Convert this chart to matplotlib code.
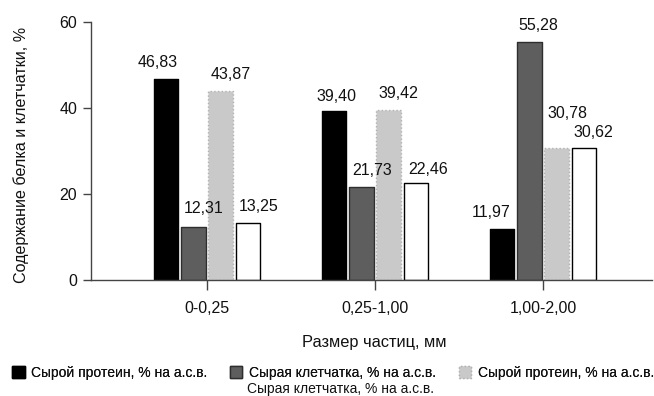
import matplotlib
matplotlib.use("Agg")
import matplotlib.pyplot as plt
from matplotlib.patches import Patch
import numpy as np

plt.rcParams['font.family'] = ['Liberation Sans', 'DejaVu Sans']

categories = ["0-0,25", "0,25-1,00", "1,00-2,00"]
series_names = ["Сырой протеин, % на а.с.в.", "Сырая клетчатка, % на а.с.в.",
                "Сырой протеин, % на а.с.в.", "Сырая клетчатка, % на а.с.в."]
s1 = [46.83, 39.40, 11.97]
s2 = [12.31, 21.73, 55.28]
s3 = [43.87, 39.42, 30.78]
s4 = [13.25, 22.46, 30.62]
yticks = [0, 20, 40, 60]
xlabel = "Размер частиц, мм"
ylabel = "Содержание белка и клетчатки, %"

W, H = 654, 396
fig = plt.figure(figsize=(W / 100, H / 100), dpi=100)
ax = fig.add_axes([91 / W, 1 - 280 / H, (652 - 91) / W, (280 - 22) / H])

faces = ["#000000", "#5e5e5e", "#c9c9c9", "#ffffff"]
edges = ["#000000", "#2e2e2e", "#b2b2b2", "#000000"]
styles = ["solid", "solid", "dotted", "solid"]
# label offsets (pixels) relative to bar top centre
offs = [[(-8, 16), (2, 14), (-11, 16)],
        [(10, 19), (11, 16), (9, 17)],
        [(10, 17), (10, 17), (11, 34)],
        [(11, 17), (12, 14), (10, 16)]]

x = np.arange(len(categories))
bw = 0.145
stride = 0.162
containers = []
for i, vals in enumerate([s1, s2, s3, s4]):
    pos = x + (i - 1.5) * stride
    bc = ax.bar(pos, vals, width=bw, color=faces[i], edgecolor=edges[i],
                linewidth=1.0, linestyle=styles[i], joinstyle='round', zorder=2)
    containers.append(bc)
    for j, (p, v) in enumerate(zip(pos, vals)):
        dx, dy = offs[i][j]
        ax.annotate(f"{v:.2f}".replace(".", ","), xy=(p, v), xytext=(dx, dy),
                    textcoords='offset pixels', ha='center', va='center',
                    fontsize=11.5, color='#111111', zorder=3)

ax.set_xlim(-0.69, 2.649)
ax.set_ylim(0, 60)
ax.set_yticks(yticks)
ax.set_yticklabels([str(t) for t in yticks], fontsize=11.5, color='#111111')
ax.set_xticks(x)
ax.set_xticklabels(categories, fontsize=11.5, color='#111111')
for s in ['top', 'right']:
    ax.spines[s].set_visible(False)
for s in ['left', 'bottom']:
    ax.spines[s].set_color('#444444')
    ax.spines[s].set_linewidth(1.0)
ax.tick_params(axis='y', direction='out', length=6, width=1, color='#444444', pad=4)
ax.tick_params(axis='x', direction='out', length=7, width=1, color='#444444', pad=8)
ax.set_xlabel(xlabel, fontsize=11.8, color='#111111')
ax.xaxis.set_label_coords((374 - 91) / 561, (280 - 342) / 258)
ax.xaxis.label.set_va('center')
ax.set_ylabel(ylabel, fontsize=11.6, color='#111111')
ax.yaxis.set_label_coords((21 - 91) / 561, (280 - 155) / 258)
ax.yaxis.label.set_va('center')

fs = 10
leg1 = fig.legend(handles=containers[:3], labels=series_names[:3], ncol=3,
                  loc='center left', bbox_to_anchor=(12 / W, 1 - 373 / H),
                  frameon=False, fontsize=fs, handlelength=0.9, handleheight=0.9,
                  handletextpad=0.5, columnspacing=1.6, borderpad=0, borderaxespad=0)
for t in leg1.get_texts():
    t.set_color('#111111')
fig.add_artist(leg1)
leg2 = fig.legend(handles=[Patch(facecolor='white', edgecolor='none')],
                  labels=[series_names[3]], loc='center left',
                  bbox_to_anchor=(227.5 / W, 1 - 388.5 / H), frameon=False, fontsize=fs,
                  handlelength=0.9, handleheight=0.9, handletextpad=0.5,
                  borderpad=0, borderaxespad=0)
for t in leg2.get_texts():
    t.set_color('#111111')

fig.savefig("out.png", dpi=100, facecolor='white')
